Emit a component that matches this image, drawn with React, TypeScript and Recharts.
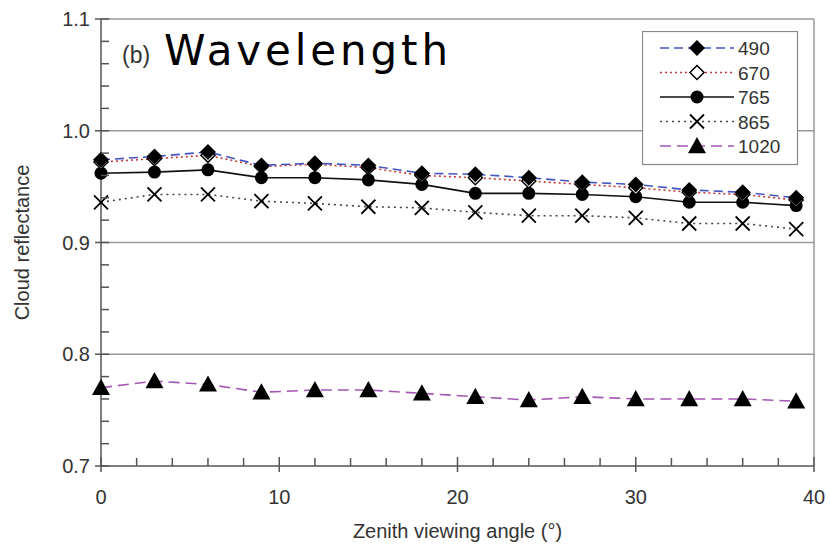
import { LineChart, Line, XAxis, YAxis, ReferenceLine } from 'recharts';

const ANGLES = [0, 3, 6, 9, 12, 15, 18, 21, 24, 27, 30, 33, 36, 39];

const R490 = [0.974, 0.977, 0.981, 0.969, 0.971, 0.969, 0.962, 0.961, 0.958, 0.954, 0.952, 0.947, 0.945, 0.94];
const R670 = [0.972, 0.975, 0.978, 0.968, 0.97, 0.967, 0.96, 0.958, 0.955, 0.952, 0.949, 0.945, 0.943, 0.938];
const R765 = [0.962, 0.963, 0.965, 0.958, 0.958, 0.956, 0.952, 0.944, 0.944, 0.943, 0.941, 0.936, 0.936, 0.933];
const R865 = [0.936, 0.943, 0.943, 0.937, 0.935, 0.932, 0.931, 0.927, 0.924, 0.924, 0.922, 0.917, 0.917, 0.912];
const R1020 = [0.77, 0.776, 0.773, 0.766, 0.768, 0.768, 0.765, 0.762, 0.759, 0.762, 0.76, 0.76, 0.76, 0.758];

const X_TICKS = [0, 2, 4, 6, 8, 10, 12, 14, 16, 18, 20, 22, 24, 26, 28, 30, 32, 34, 36, 38, 40];
const Y_TICKS = [0.7, 0.72, 0.74, 0.76, 0.78, 0.8, 0.82, 0.84, 0.86, 0.88, 0.9, 0.92, 0.94, 0.96, 0.98, 1.0, 1.02, 1.04, 1.06, 1.08, 1.1];
const GRID_Y = [0.8, 0.9, 1.0, 1.1];

const data = ANGLES.map((a, i) => ({
  angle: a,
  r490: R490[i],
  r670: R670[i],
  r765: R765[i],
  r865: R865[i],
  r1020: R1020[i],
}));

type Kind = 'diamond' | 'openDiamond' | 'circle' | 'cross' | 'triangle';

const SERIES: { key: string; name: string; color: string; dash?: string; width: number; marker: Kind }[] = [
  { key: 'r1020', name: '1020', color: '#a456b4', dash: '11 6', width: 1.6, marker: 'triangle' },
  { key: 'r865', name: '865', color: '#444', dash: '2 4', width: 1.6, marker: 'cross' },
  { key: 'r765', name: '765', color: '#111', width: 1.6, marker: 'circle' },
  { key: 'r670', name: '670', color: '#c23a3a', dash: '2 3', width: 1.6, marker: 'openDiamond' },
  { key: 'r490', name: '490', color: '#4455c0', dash: '9 5', width: 1.6, marker: 'diamond' },
];

const LEGEND_ORDER = ['r490', 'r670', 'r765', 'r865', 'r1020'];

const PLOT_LEFT = 101;
const PLOT_BOTTOM = 466;
const FONT = '"Liberation Sans", Arial, sans-serif';
const TICK_COLOR = '#555';

function Marker({ kind, cx, cy }: { kind: Kind; cx: number; cy: number }) {
  if (kind === 'diamond') {
    const s = 8;
    return <polygon points={`${cx},${cy - s} ${cx + s},${cy} ${cx},${cy + s} ${cx - s},${cy}`} fill="#000" />;
  }
  if (kind === 'openDiamond') {
    const s = 7;
    return (
      <polygon
        points={`${cx},${cy - s} ${cx + s},${cy} ${cx},${cy + s} ${cx - s},${cy}`}
        fill="#fff"
        stroke="#000"
        strokeWidth={1.5}
      />
    );
  }
  if (kind === 'circle') return <circle cx={cx} cy={cy} r={6.5} fill="#000" />;
  if (kind === 'cross') {
    const s = 7;
    return (
      <g stroke="#000" strokeWidth={1.8}>
        <line x1={cx - s} y1={cy - s} x2={cx + s} y2={cy + s} />
        <line x1={cx - s} y1={cy + s} x2={cx + s} y2={cy - s} />
      </g>
    );
  }
  const s = 9;
  return <polygon points={`${cx},${cy - s} ${cx + s},${cy + s * 0.8} ${cx - s},${cy + s * 0.8}`} fill="#000" />;
}

// inward tick marks at every minor step; majors also poke out past the axis
function YTick(props: any) {
  const { y, payload } = props;
  const v = payload.value as number;
  const major = Math.abs(v * 10 - Math.round(v * 10)) < 1e-6;
  return (
    <g>
      <rect x={major ? PLOT_LEFT - 6 : PLOT_LEFT} y={y - 0.75} width={major ? 14 : 8} height={1.5} fill={TICK_COLOR} />
      {major && (
        <text x={PLOT_LEFT - 11} y={y} dy={7} textAnchor="end" fontSize={20} fill="#333" stroke="none" fontFamily={FONT}>
          {v.toFixed(1)}
        </text>
      )}
    </g>
  );
}

function XTick(props: any) {
  const { x, payload } = props;
  const v = payload.value as number;
  const major = v % 10 === 0;
  return (
    <g>
      <rect x={x - 0.75} y={PLOT_BOTTOM - (major ? 9 : 8)} width={1.5} height={major ? 15 : 8} fill={TICK_COLOR} />
      {major && (
        <text x={x} y={PLOT_BOTTOM + 38} textAnchor="middle" fontSize={20} fill="#333" stroke="none" fontFamily={FONT}>
          {v}
        </text>
      )}
    </g>
  );
}

function LegendBox() {
  return (
    <svg width={158} height={136} style={{ position: 'absolute', left: 642, top: 31 }}>
      <rect x={0.5} y={0.5} width={155} height={133} fill="#fff" stroke="#888" strokeWidth={1.2} />
      {LEGEND_ORDER.map((k, i) => {
        const s = SERIES.find((e) => e.key === k)!;
        const cy = 17 + i * 24.5;
        return (
          <g key={k}>
            <line x1={18} x2={92} y1={cy} y2={cy} stroke={s.color} strokeWidth={s.width} strokeDasharray={s.dash} />
            <Marker kind={s.marker} cx={55} cy={cy} />
            <text x={96} y={cy + 7} fontSize={19} fill="#333" fontFamily={FONT}>
              {s.name}
            </text>
          </g>
        );
      })}
    </svg>
  );
}

export default function App() {
  return (
    <div style={{ position: 'absolute', left: 0, top: 0, width: 830, height: 548, background: '#fff' }}>
      <LineChart width={830} height={548} data={data} margin={{ top: 19, right: 16, bottom: 32, left: 21 }}>
        {GRID_Y.map((g) => (
          <ReferenceLine key={g} y={g} stroke="#999" strokeWidth={1.5} />
        ))}
        <ReferenceLine x={40} stroke="#999" strokeWidth={1.5} />
        <XAxis
          type="number"
          dataKey="angle"
          domain={[0, 40]}
          ticks={X_TICKS}
          interval={0}
          height={50}
          tick={<XTick />}
          tickLine={false}
          axisLine={{ stroke: '#555', strokeWidth: 1.5 }}
          label={{ value: 'Zenith viewing angle (°)', position: 'insideBottom', offset: -22, fontSize: 20, fill: '#333', fontFamily: FONT }}
        />
        <YAxis
          type="number"
          domain={[0.7, 1.1]}
          ticks={Y_TICKS}
          interval={0}
          width={80}
          tick={<YTick />}
          tickLine={false}
          axisLine={{ stroke: '#555', strokeWidth: 1.5 }}
          label={{ value: 'Cloud reflectance', angle: -90, position: 'insideLeft', offset: 1, fontSize: 20, fill: '#333', fontFamily: FONT, style: { textAnchor: 'middle' } }}
        />
        {SERIES.map((s) => (
          <Line
            key={s.key}
            dataKey={s.key}
            stroke={s.color}
            strokeWidth={s.width}
            strokeDasharray={s.dash}
            dot={(p: any) => <Marker key={`${s.key}-${p.index}`} kind={s.marker} cx={p.cx} cy={p.cy} />}
            activeDot={false}
            isAnimationActive={false}
          />
        ))}
      </LineChart>
      <svg width={500} height={90} style={{ position: 'absolute', left: 0, top: 0, pointerEvents: 'none' }}>
        <text x={122} y={63} fontSize={23} fill="#333" fontFamily={FONT}>
          (b)
        </text>
        <text x={164} y={65} fontSize={42} textLength={284} fill="#000" fontFamily={'"DejaVu Sans", sans-serif'}>
          Wavelength
        </text>
      </svg>
      <LegendBox />
    </div>
  );
}
